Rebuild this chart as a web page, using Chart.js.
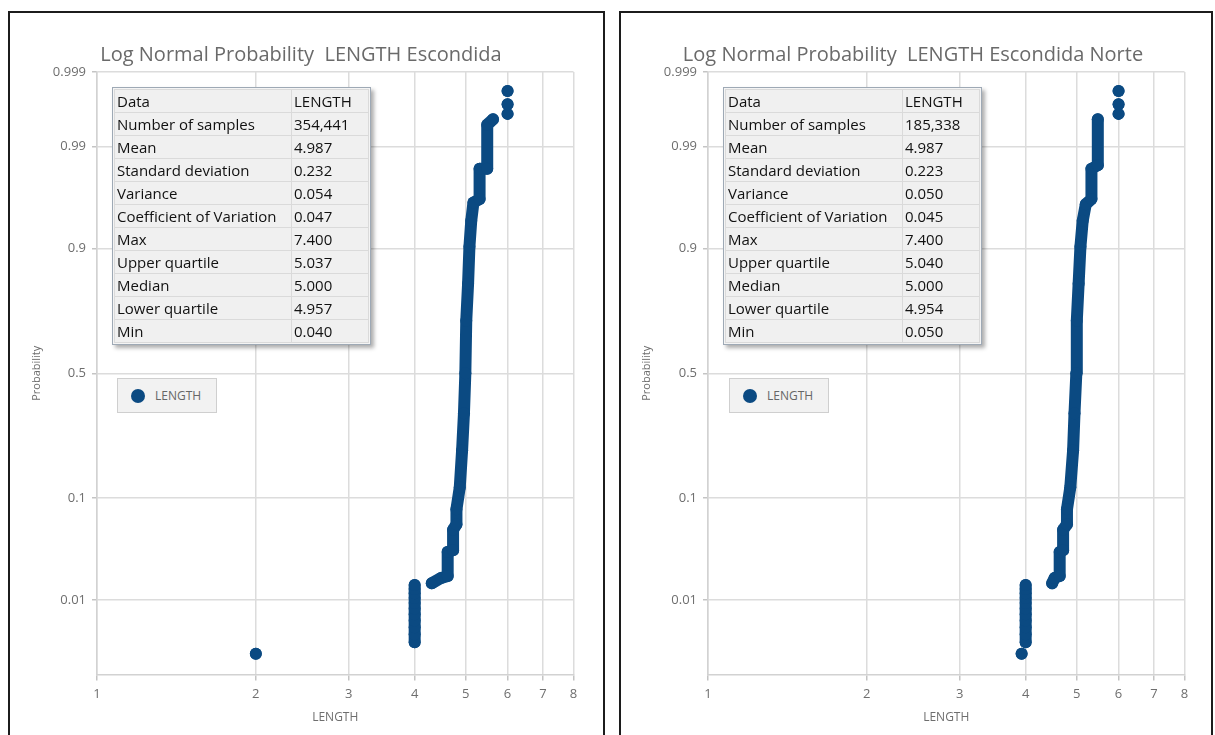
<!DOCTYPE html>
<html>
<head>
<meta charset="utf-8">
<script src="https://cdn.jsdelivr.net/npm/chart.js@4.4.0/dist/chart.umd.min.js"></script>
<style>
  body { margin: 0; background: #fff; font-family: "Open Sans", sans-serif; }
  .panel { position: absolute; top: 11px; height: 760px; border: 2px solid #1c1c1c; box-sizing: border-box; }
  canvas.plot { position: absolute; }
  .title { position: absolute; top: 41px; transform: translateX(-50%); white-space: pre;
           font-size: 20px; line-height: 26px; color: #6a6a6a; }
  .stats { position: absolute; top: 87px; border: 1px solid #9ea9b5; padding: 1px;
           background: #f4f4f4; box-shadow: 3px 3px 4px rgba(0,0,0,0.32); }
  .stats table { border-collapse: collapse; }
  .stats td { border: 1px solid #dadada; background: #f0f0f0; height: 22px; padding: 0 2px;
              font-size: 15px; line-height: 22px; color: #111; white-space: nowrap; }
  .stats td.k { width: 172px; }
  .stats td.v { width: 72px; }
  .legend { position: absolute; top: 378px; width: 100px; height: 35px; box-sizing: border-box;
            background: #f2f2f2; border: 1px solid #cfcfcf; }
  .legend .dot { position: absolute; left: 13px; top: 10px; width: 14px; height: 14px; border-radius: 50%; }
  .legend .txt { position: absolute; left: 37px; top: 9px; font-size: 12px; line-height: 16px; color: #666; }
</style>
</head>
<body>
<div class="panel" style="left:8px; width:597px;"></div>
<div class="panel" style="left:619px; width:594px;"></div>
<canvas id="chartLeft" class="plot" style="left:10px; top:13px;" width="593" height="722"></canvas>
<canvas id="chartRight" class="plot" style="left:621px; top:13px;" width="590" height="722"></canvas>
<div id="titleLeft" class="title" style="left:301px;"></div>
<div id="titleRight" class="title" style="left:913px;"></div>
<div id="statsLeft" class="stats" style="left:112px;"></div>
<div id="statsRight" class="stats" style="left:723px;"></div>
<div id="legendLeft" class="legend" style="left:117px;"></div>
<div id="legendRight" class="legend" style="left:729px;"></div>
<script>
const seriesName = "LENGTH";
const titles = ["Log Normal Probability  LENGTH Escondida", "Log Normal Probability  LENGTH Escondida Norte"];

const xTicks = [1, 2, 3, 4, 5, 6, 7, 8];
const probTicks = [0.01, 0.1, 0.5, 0.9, 0.99, 0.999];
const probTickLabels = ["0.01", "0.1", "0.5", "0.9", "0.99", "0.999"];
const probMin = 0.001;
const probMax = 0.999;

const statLabels = ["Data", "Number of samples", "Mean", "Standard deviation", "Variance",
  "Coefficient of Variation", "Max", "Upper quartile", "Median", "Lower quartile", "Min"];
const escondidaStats = ["LENGTH", "354,441", "4.987", "0.232", "0.054", "0.047", "7.400", "5.037", "5.000", "4.957", "0.040"];
const norteStats = ["LENGTH", "185,338", "4.987", "0.223", "0.050", "0.045", "7.400", "5.040", "5.000", "4.954", "0.050"];

// null marks a break in the plotted band
const escondidaLength = [
  2.00, null,
  4.00, 4.00, 4.00, 4.00, 4.00, 4.00, 4.00, 4.00, 4.00, 4.00, 4.00, null,
  4.31, 4.49, 4.62, 4.62, 4.73, 4.73, 4.80, 4.80, 4.87, 4.92, 4.96, 4.99, 5.01, 5.05, 5.08, 5.12, 5.17,
  5.31, 5.31, 5.49, 5.49, 5.63, null,
  6.00, null, 6.00, null, 6.00
];
const escondidaProb = [
  0.0020, null,
  0.0029, 0.0037, 0.0046, 0.0056, 0.0067, 0.0079, 0.0092, 0.0106, 0.0120, 0.0134, 0.0149, null,
  0.0156, 0.0179, 0.0188, 0.0334, 0.0348, 0.0542, 0.0607, 0.0815, 0.121, 0.215, 0.341, 0.500, 0.705, 0.821, 0.903, 0.941, 0.960,
  0.963, 0.982, 0.982, 0.9946, 0.9954, null,
  0.9961, null, 0.9971, null, 0.9981
];

const norteLength = [
  3.93, null,
  4.00, 4.00, 4.00, 4.00, 4.00, 4.00, 4.00, 4.00, 4.00, 4.00, 4.00, null,
  4.49, 4.54, 4.64, 4.64, 4.71, 4.71, 4.79, 4.79, 4.86, 4.92, 4.95, 4.99, 5.00, 5.04, 5.08, 5.13, 5.20,
  5.33, 5.33, 5.48, 5.48, null,
  6.00, null, 6.00, null, 6.00
];
const norteProb = [
  0.0020, null,
  0.0029, 0.0037, 0.0046, 0.0056, 0.0067, 0.0079, 0.0092, 0.0106, 0.0120, 0.0134, 0.0149, null,
  0.0156, 0.0179, 0.0188, 0.0334, 0.0348, 0.0542, 0.0607, 0.0815, 0.121, 0.215, 0.341, 0.500, 0.705, 0.821, 0.903, 0.941, 0.9585,
  0.963, 0.982, 0.9836, 0.9954, null,
  0.9961, null, 0.9971, null, 0.9981
];

const markColor = "#0b4a82";
const gridColor = "#dcdcdc";
const labelColor = "#6e6e6e";

// inverse normal CDF (Acklam), used to put probabilities on a normal-score axis
function probit(p) {
  const a = [-3.969683028665376e+01, 2.209460984245205e+02, -2.759285104469687e+02, 1.383577518672690e+02, -3.066479806614716e+01, 2.506628277459239e+00];
  const b = [-5.447609879822406e+01, 1.615858368580409e+02, -1.556989798598866e+02, 6.680131188771972e+01, -1.328068155288572e+01];
  const c = [-7.784894002430293e-03, -3.223964580411365e-01, -2.400758276141814e+00, -2.549732539343734e+00, 4.374664141464968e+00, 2.938163982698783e+00];
  const d = [7.784695709041462e-03, 3.224671290700398e-01, 2.445134137142996e+00, 3.754408661907416e+00];
  const pl = 0.02425;
  let q, r;
  if (p < pl) {
    q = Math.sqrt(-2 * Math.log(p));
    return (((((c[0]*q+c[1])*q+c[2])*q+c[3])*q+c[4])*q+c[5]) / ((((d[0]*q+d[1])*q+d[2])*q+d[3])*q+1);
  }
  if (p > 1 - pl) {
    q = Math.sqrt(-2 * Math.log(1 - p));
    return -(((((c[0]*q+c[1])*q+c[2])*q+c[3])*q+c[4])*q+c[5]) / ((((d[0]*q+d[1])*q+d[2])*q+d[3])*q+1);
  }
  q = p - 0.5; r = q * q;
  return (((((a[0]*r+a[1])*r+a[2])*r+a[3])*r+a[4])*r+a[5])*q / (((((b[0]*r+b[1])*r+b[2])*r+b[3])*r+b[4])*r+1);
}

const toPoints = (lengths, probs) =>
  lengths.map((v, i) => (v === null ? { x: null, y: null } : { x: v, y: probit(probs[i]) }));

const fillStats = (id, values) => {
  const rows = statLabels.map((k, i) => `<tr><td class="k">${k}</td><td class="v">${values[i]}</td></tr>`).join("");
  document.getElementById(id).innerHTML = `<table>${rows}</table>`;
};

const fillLegend = (id) => {
  document.getElementById(id).innerHTML =
    `<div class="dot" style="background:${markColor}"></div><div class="txt">${seriesName}</div>`;
};

const drawProbChart = (canvasId, points, yWidth, padRight, yTitlePad) => {
  const ctx = document.getElementById(canvasId).getContext("2d");
  new Chart(ctx, {
    type: "scatter",
    data: {
      datasets: [
        {
          label: seriesName,
          data: points,
          showLine: true,
          spanGaps: false,
          borderColor: markColor,
          borderWidth: 12,
          borderCapStyle: "round",
          borderJoinStyle: "round",
          backgroundColor: markColor,
          pointRadius: 6,
          pointHoverRadius: 6,
          pointBorderWidth: 0,
        },
      ],
    },
    options: {
      responsive: false,
      animation: false,
      events: [],
      layout: { padding: { top: 59, left: 0, right: padRight, bottom: 0 } },
      plugins: { legend: { display: false }, tooltip: { enabled: false }, title: { display: false } },
      scales: {
        x: {
          type: "logarithmic",
          min: 1,
          max: 8,
          afterBuildTicks: (axis) => { axis.ticks = xTicks.map((v) => ({ value: v })); },
          afterFit: (axis) => { axis.height = 60.5; },
          ticks: {
            autoSkip: false,
            maxRotation: 0,
            padding: 6,
            color: labelColor,
            font: { family: "Open Sans", size: 13 },
            callback: (v) => String(v),
          },
          grid: { color: gridColor, lineWidth: 1.5, tickLength: 6, tickColor: "#c4c4c4" },
          border: { color: "#d2d2d2", width: 1.5 },
          title: {
            display: true,
            text: seriesName,
            color: labelColor,
            font: { family: "Open Sans", size: 12 },
            padding: { top: 0, bottom: 10 },
          },
        },
        y: {
          type: "linear",
          min: probit(probMin),
          max: probit(probMax),
          afterBuildTicks: (axis) => { axis.ticks = probTicks.map((p) => ({ value: probit(p) })); },
          afterFit: (axis) => { axis.width = yWidth; },
          ticks: {
            autoSkip: false,
            padding: 6,
            color: labelColor,
            font: { family: "Open Sans", size: 13 },
            callback: (v, i) => probTickLabels[i],
          },
          grid: { color: gridColor, lineWidth: 1.5, tickLength: 5, tickColor: "#c4c4c4" },
          border: { color: "#d2d2d2", width: 1.5 },
          title: {
            display: true,
            text: "Probability",
            color: labelColor,
            font: { family: "Open Sans", size: 11 },
            padding: { top: yTitlePad, bottom: 0 },
          },
        },
      },
    },
  });
};

document.getElementById("titleLeft").textContent = titles[0];
document.getElementById("titleRight").textContent = titles[1];
fillStats("statsLeft", escondidaStats);
fillStats("statsRight", norteStats);
fillLegend("legendLeft");
fillLegend("legendRight");

drawProbChart("chartLeft", toPoints(escondidaLength, escondidaProb), 87, 29.5, 20);
drawProbChart("chartRight", toPoints(norteLength, norteProb), 87, 26.5, 19);
</script>
</body>
</html>
